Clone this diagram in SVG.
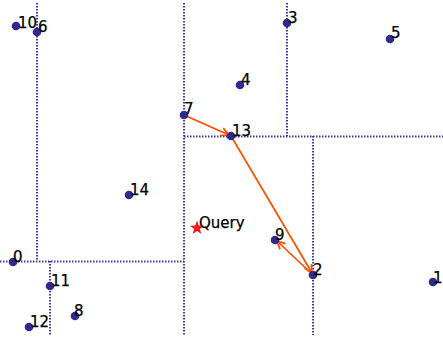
<svg xmlns="http://www.w3.org/2000/svg" width="443" height="340" viewBox="0 0 443 340">
<style>
.split{stroke:#3a3aa8;stroke-width:2;stroke-dasharray:1.5 1.5;fill:none}
.pt{fill:#2f2a8c}
.lbl{font-family:"DejaVu Sans",sans-serif;font-size:15px;fill:#000;stroke:#000;stroke-width:0.25}
.arr{stroke:#ff4d00;stroke-width:1.7;fill:none;marker-end:url(#ah)}
</style>
<defs>
<marker id="ah" markerWidth="12" markerHeight="12" refX="9" refY="5" orient="auto" markerUnits="userSpaceOnUse">
<path d="M1,1 L9,5 L1,9" fill="none" stroke="#ff4d00" stroke-width="1.7"/>
</marker>
</defs>
<rect width="443" height="340" fill="#fff"/>
<g id="splits">
<line class="split" x1="37" y1="3" x2="37" y2="261"/>
<line class="split" x1="184" y1="3" x2="184" y2="335"/>
<line class="split" x1="287" y1="3" x2="287" y2="136"/>
<line class="split" x1="184" y1="136.5" x2="443" y2="136.5"/>
<line class="split" x1="313" y1="136" x2="313" y2="335"/>
<line class="split" x1="0" y1="261.5" x2="184" y2="261.5"/>
<line class="split" x1="50" y1="261" x2="50" y2="335"/>
</g>
<g id="connectors">
<line class="arr" x1="184" y1="115" x2="229" y2="135"/>
<line class="arr" x1="231" y1="136" x2="312" y2="273"/>
<line class="arr" x1="313" y1="275" x2="277" y2="241"/>
</g>
<g id="p10"><circle class="pt" cx="16" cy="26" r="4.3"/><text class="lbl" x="18" y="28">10</text></g>
<g id="p6"><circle class="pt" cx="37" cy="32" r="4.3"/><text class="lbl" x="38" y="32">6</text></g>
<g id="p3"><circle class="pt" cx="287" cy="23" r="4.3"/><text class="lbl" x="288" y="23">3</text></g>
<g id="p5"><circle class="pt" cx="390" cy="39" r="4.3"/><text class="lbl" x="391" y="38">5</text></g>
<g id="p4"><circle class="pt" cx="240" cy="85" r="4.3"/><text class="lbl" x="241" y="85">4</text></g>
<g id="p7"><circle class="pt" cx="184" cy="115" r="4.3"/><text class="lbl" x="184" y="114">7</text></g>
<g id="p13"><circle class="pt" cx="231" cy="136" r="4.3"/><text class="lbl" x="232" y="136">13</text></g>
<g id="p14"><circle class="pt" cx="129" cy="195" r="4.3"/><text class="lbl" x="130" y="195">14</text></g>
<g id="query"><polygon fill="#ee1c1c" points="197,220.5 198.76,225.58 204.13,225.68 199.85,228.93 201.41,234.07 197,231 192.59,234.07 194.15,228.93 189.87,225.68 195.24,225.58"/><text class="lbl" x="199" y="228">Query</text></g>
<g id="p9"><circle class="pt" cx="275" cy="240" r="4.3"/><text class="lbl" x="275" y="240">9</text></g>
<g id="p2"><circle class="pt" cx="313" cy="275" r="4.3"/><text class="lbl" x="313" y="275">2</text></g>
<g id="p1"><circle class="pt" cx="433" cy="282" r="4.3"/><text class="lbl" x="433" y="283">1</text></g>
<g id="p0"><circle class="pt" cx="13" cy="262" r="4.3"/><text class="lbl" x="13" y="262">0</text></g>
<g id="p11"><circle class="pt" cx="50" cy="286" r="4.3"/><text class="lbl" x="51" y="286">11</text></g>
<g id="p8"><circle class="pt" cx="75" cy="316" r="4.3"/><text class="lbl" x="74" y="316">8</text></g>
<g id="p12"><circle class="pt" cx="29" cy="327" r="4.3"/><text class="lbl" x="30" y="327">12</text></g>
</svg>
